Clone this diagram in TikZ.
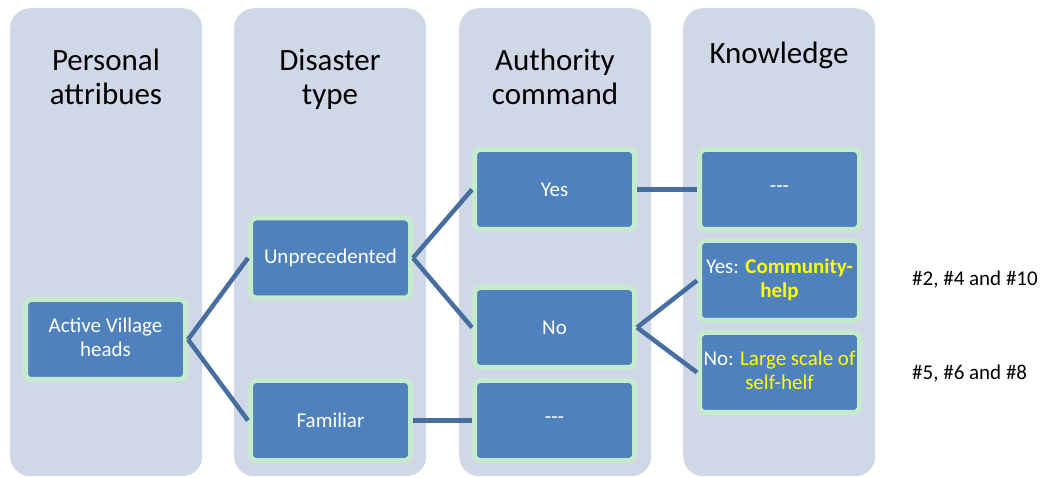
\documentclass[tikz,border=0pt]{standalone}
\usepackage{fontspec}
\setmainfont{Carlito}
\definecolor{panel}{RGB}{208,216,232}
\definecolor{boxblue}{RGB}{79,129,189}
\definecolor{boxedge}{RGB}{198,234,206}
\definecolor{link}{RGB}{70,110,160}
\definecolor{hl}{RGB}{255,255,0}
\tikzset{
  panelbox/.style={fill=panel, draw=none, rounded corners=20pt, minimum width=192pt, minimum height=468pt, anchor=north west, inner sep=0pt},
  title/.style={font=\fontsize{31}{34}\selectfont, align=center, text=black, inner sep=0pt, anchor=north},
  leaf/.style={fill=boxblue, draw=boxedge, line width=5pt, rounded corners=6pt, minimum width=160pt, minimum height=80pt, text=white, align=center, font=\fontsize{21}{24}\selectfont, inner sep=2pt},
  conn/.style={draw=link, line width=4.5pt},
  note/.style={font=\fontsize{21}{24}\selectfont, anchor=west, inner sep=0pt}
}
\begin{document}
\begin{tikzpicture}[x=1pt,y=-1pt]
\useasboundingbox (0,0) rectangle (1045,478);
\node[panelbox] (p1) at (10,8) {};
\node[panelbox] (p2) at (234,8) {};
\node[panelbox] (p3) at (459,8) {};
\node[panelbox] (p4) at (683,8) {};
\node[title] (t1) at (106,46.2) {\strut Personal\\\strut attribues};
\node[title] (t2) at (330,46.2) {\strut Disaster\\\strut type};
\node[title] (t3) at (555,46.2) {\strut Authority\\\strut command};
\node[title] (t4) at (779,39.2) {\strut Knowledge};

\node[leaf] (avh) at (105.5,339.5) {\strut Active Village\\\strut heads};
\node[leaf] (unp) at (330.5,258) {Unprecedented};
\node[leaf] (fam) at (330.5,420.5) {Familiar};
\node[leaf] (yes) at (554.5,189.5) {Yes};
\node[leaf] (no) at (554.5,327.5) {No};
\node[leaf] (d3) at (554.5,420.5) {-{}-{}-};
\node[leaf] (d4) at (779.5,189.5) {-{}-{}-};
\node[leaf] (ych) at (779.5,280.5) {\strut Yes: \textcolor{hl}{\textbf{Community-}}\\\strut\textcolor{hl}{\textbf{help}}};
\node[leaf] (nls) at (779.5,372.5) {\strut No: \textcolor{hl}{Large scale of}\\\strut\textcolor{hl}{self-helf}};

\node[note] (n1) at (912,280) {\#2, \#4 and \#10};
\node[note] (n2) at (912,374) {\#5, \#6 and \#8};

\draw[conn] (avh.east) -- (unp.west);
\draw[conn] (avh.east) -- (fam.west);
\draw[conn] (unp.east) -- (yes.west);
\draw[conn] (unp.east) -- (no.west);
\draw[conn] (fam.east) -- (d3.west);
\draw[conn] (yes.east) -- (d4.west);
\draw[conn] (no.east) -- (ych.west);
\draw[conn] (no.east) -- (nls.west);
\end{tikzpicture}
\end{document}
